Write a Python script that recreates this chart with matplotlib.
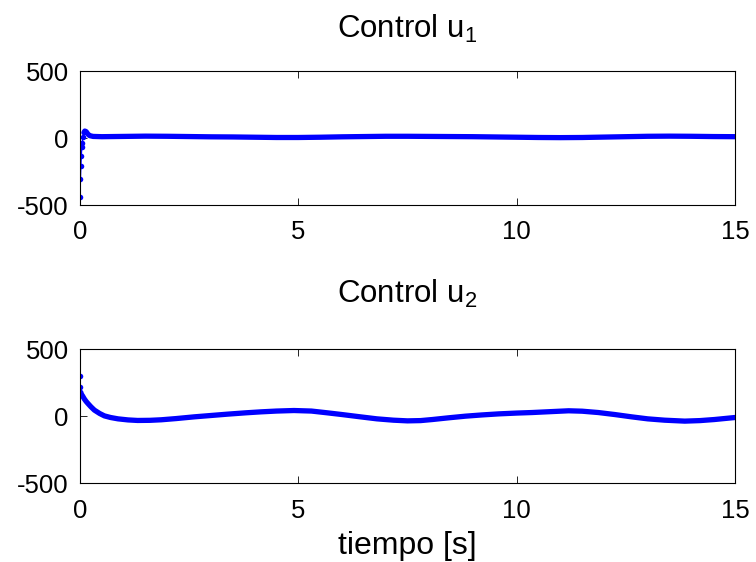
import matplotlib
matplotlib.use("Agg")
import matplotlib.pyplot as plt
import numpy as np

# values
t1 = [0, 0.01, 0.02, 0.03, 0.04, 0.05, 0.07, 0.09, 0.11, 0.14, 0.18, 0.22,
      0.3, 0.5, 1.0, 1.5, 2.0, 2.5, 3.0, 3.5, 4.0, 4.5, 5.0, 5.5, 6.0, 6.5,
      7.0, 7.5, 8.0, 8.5, 9.0, 9.5, 10.0, 10.5, 11.0, 11.5, 12.0, 12.5, 13.0,
      13.5, 14.0, 14.5, 15.0]
u1 = [-440, -306, -207, -132, -69, -35, 10, 40, 52, 48, 30, 18,
      12, 10, 12, 14, 13, 11, 9, 8, 6, 4, 4, 6, 9, 11,
      13, 13, 12, 11, 10, 8, 6, 4, 3, 4, 7, 10, 13,
      14, 13, 11, 10]

t2 = [0, 0.01, 0.02, 0.03, 0.06, 0.1, 0.14, 0.18, 0.25, 0.33, 0.45, 0.56,
      0.7, 0.87, 1.1, 1.32, 1.6, 1.86, 2.2, 2.62, 3.0, 3.38, 3.8, 4.14, 4.5,
      4.9, 5.3, 5.66, 6.0, 6.42, 6.8, 7.18, 7.5, 7.8, 8.07, 8.45, 8.83, 9.2,
      9.59, 10.0, 10.35, 10.8, 11.19, 11.5, 11.87, 12.25, 12.63, 13.0, 13.39,
      13.85, 14.2, 14.53, 15.0]
u2 = [300, 214, 177, 165, 150, 128, 110, 95, 70, 45, 20, 2,
      -10, -20, -28, -32, -31, -27, -18, -5, 5, 15, 25, 32, 38,
      42, 38, 25, 12, -5, -20, -30, -35, -33, -25, -12, 0, 9,
      17, 23, 27, 34, 40, 37, 27, 12, -5, -20, -30,
      -37, -33, -25, -10]

xticks = [0, 5, 10, 15]
yticks = [-500, 0, 500]
titles = ["Control u$_1$", "Control u$_2$"]

plt.rcParams["font.family"] = ["Liberation Sans", "DejaVu Sans"]
plt.rcParams["mathtext.fontset"] = "custom"
plt.rcParams["mathtext.rm"] = "Liberation Sans"
plt.rcParams["mathtext.it"] = "Liberation Sans"
plt.rcParams["axes.unicode_minus"] = False

fig = plt.figure(figsize=(7.56, 5.62), dpi=100)
ax1 = fig.add_axes([0.1058, 0.6352, 0.8664, 0.2384])
ax2 = fig.add_axes([0.1058, 0.1400, 0.8664, 0.2390])

# the early (fast) samples show up as separate dots, the rest as a thick band
series = [(ax1, t1, u1, 0.09, 24), (ax2, t2, u2, 0.02, 33)]
for (ax, t, u, settle, tpad), title in zip(series, titles):
    t = np.array(t)
    u = np.array(u)
    band = t >= settle
    ax.plot(t[band], u[band], color="#0000ff", lw=3.8,
            solid_joinstyle="round", solid_capstyle="round")
    ax.plot(t, u, color="#0000ff", lw=1.0, marker="o", ms=4.0, mew=0.0,
            markevery=list(~band))
    ax.set_xlim(0, 15)
    ax.set_ylim(-500, 500)
    ax.set_xticks(xticks)
    ax.set_yticks(yticks)
    ax.tick_params(direction="in", length=5, width=0.6, labelsize=18.5,
                   top=True, right=True)
    ax.tick_params(axis="x", pad=11)
    ax.tick_params(axis="y", pad=8)
    for s in ax.spines.values():
        s.set_linewidth(0.8)
    ax.set_title(title, fontsize=22.5, pad=tpad)

ax2.set_xlabel("tiempo [s]", fontsize=23, labelpad=6)

fig.savefig("out.png", dpi=100)
